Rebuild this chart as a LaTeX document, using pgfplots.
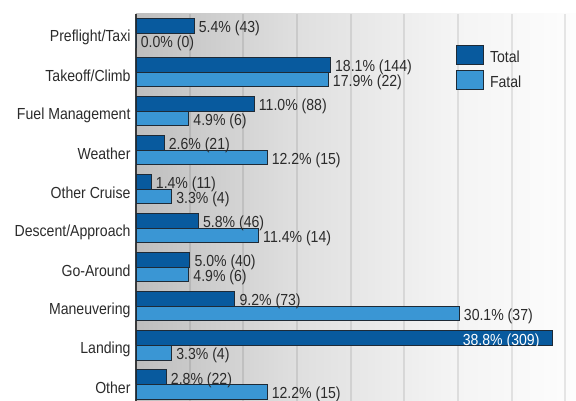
\documentclass[border=0pt]{standalone}
\usepackage{pgfplots}
\usepackage{pgfplotstable}
\pgfplotsset{compat=1.18}
\usepackage{fontspec}
\setmainfont{Liberation Sans}[FakeStretch=0.88]
\definecolor{totc}{HTML}{085A9E}
\definecolor{fatc}{HTML}{3A96D4}
\definecolor{edgec}{HTML}{1E2A36}
\definecolor{txt}{HTML}{2B2B2B}
\definecolor{bgA}{HTML}{BEBEBE}
\definecolor{bgB}{HTML}{DEDEDE}
\definecolor{bgC}{HTML}{F3F3F3}
\definecolor{bgD}{HTML}{FDFDFD}
\definecolor{axc}{HTML}{3A3A3A}
\pgfdeclarehorizontalshading{plotbg}{100bp}{color(0bp)=(bgA); color(25bp)=(bgA); color(42.5bp)=(bgB); color(60bp)=(bgC); color(75bp)=(bgD); color(100bp)=(bgD)}
\newcommand\lf{\fontsize{16bp}{18bp}\selectfont}

\pgfplotstableread{
y x n
9 5.4 43
8 18.1 144
7 11.0 88
6 2.6 21
5 1.4 11
4 5.8 46
3 5.0 40
2 9.2 73
0 2.8 22
}\totaltab
\pgfplotstableread{
y x n
1 38.8 309
}\landtab
\pgfplotstableread{
y x n
9 0.0 0
8 17.9 22
7 4.9 6
6 12.2 15
5 3.3 4
4 11.4 14
3 4.9 6
2 30.1 37
1 3.3 4
0 12.2 15
}\fataltab

\pgfplotsset{
  legbox/.style={legend image code/.code={\draw[##1, line width=0.8bp] (0bp,-6.8bp) rectangle (27bp,12.2bp);}},
  barlab/.style={
    point meta=x,
    visualization depends on={\thisrow{n}\as\cnt},
    nodes near coords={\pgfmathprintnumber[fixed,fixed zerofill,precision=1,assume math mode=true]{\pgfplotspointmeta}\%\ (\pgfmathprintnumber[fixed,precision=0,assume math mode=true]{\cnt})},
    every node near coord/.append style={font=\lf, text=txt, anchor=west, inner xsep=4.5bp, yshift=-3bp},
  },
}

\begin{document}
\begin{tikzpicture}
\path[use as bounding box] (-136bp,0bp) rectangle (440bp,401bp);
\begin{axis}[
  at={(0,0)}, anchor=south west,
  scale only axis, width=440bp, height=387bp,
  xmin=0, xmax=41, ymin=-0.43, ymax=9.49,
  xbar, bar width=14.7bp,
  axis line style={draw=none},
  axis background/.style={shading=plotbg},
  major tick length=0pt,
  xtick={5,10,...,40}, xticklabels={},
  xmajorgrids, grid style={draw=black, draw opacity=0.09, line width=2bp},
  extra x ticks={0}, extra x tick labels={},
  extra x tick style={grid style={draw=axc, draw opacity=1, line width=2bp}},
  ytick={0,...,9},
  yticklabels={Other, Landing, Maneuvering, Go-Around, Descent/Approach, Other Cruise, Weather, Fuel Management, Takeoff/Climb, Preflight/Taxi},
  yticklabel style={font=\lf, text=txt, xshift=-2bp, yshift=-4bp},
  legend style={at={(0.7273,0.92)}, anchor=north west, draw=none, fill=none,
    inner sep=0pt, row sep=5bp, font=\lf, text=txt,
    nodes={inner sep=0pt, anchor=west},
    /tikz/every odd column/.append style={column sep=6bp}},
  legend cell align=left,
]
\addplot[xbar, fill=totc, draw=edgec, line width=0.8bp, bar shift=7.35bp, legbox, barlab] table[x=x, y=y] {\totaltab};
\addlegendentry{Total}
\addplot[xbar, fill=fatc, draw=edgec, line width=0.8bp, bar shift=-7.35bp, legbox, barlab] table[x=x, y=y] {\fataltab};
\addlegendentry{Fatal}
\addplot[xbar, fill=totc, draw=edgec, line width=0.8bp, bar shift=7.35bp, forget plot, barlab,
  every node near coord/.append style={anchor=east, text=white, xshift=-8bp}] table[x=x, y=y] {\landtab};
\end{axis}
\end{tikzpicture}
\end{document}
